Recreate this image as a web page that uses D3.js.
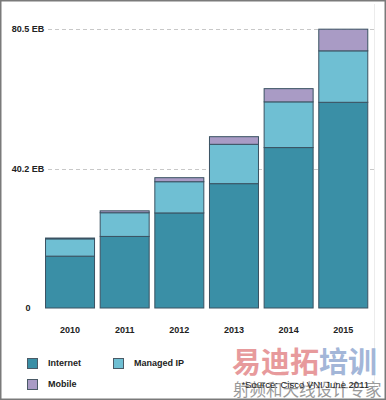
<!DOCTYPE html>
<html><head><meta charset="utf-8">
<script src="https://cdn.jsdelivr.net/npm/d3@7"></script>
<style>body{margin:0;background:#fff}svg{display:block}</style>
</head><body>
<script>
const years = ["2010","2011","2012","2013","2014","2015"];
const internet = [14.96, 20.65, 27.43, 35.88, 46.29, 59.35];
const managedIP = [4.99, 6.84, 9.01, 11.35, 13.19, 14.85];
const mobile = [0.24, 0.55, 1.16, 2.20, 3.81, 6.25];
const seriesNames = ["Internet", "Managed IP", "Mobile"];
const tickValues = [0, 40.2, 80.5];
const tickLabels = ["0", "40.2 EB", "80.5 EB"];
const colors = ["#3a8fa6", "#6fbfd3", "#a99bc5"];

const W = 386, H = 400;
const svg = d3.select("body").append("svg").attr("width", W).attr("height", H);
svg.append("rect").attr("x",0.75).attr("y",0.75).attr("width",W-1.5).attr("height",H-1.5)
  .attr("fill","#fff").attr("stroke","#7a7a7a").attr("stroke-width",1.5);
svg.append("line").attr("x1",374.5).attr("x2",374.5).attr("y1",4).attr("y2",392).attr("stroke","#ececec");

const x = d3.scaleBand().domain(years).range([42.7, 370.6]).paddingInner(0.085).paddingOuter(0.0425);
const y = d3.scaleLinear().domain([0, 80.5]).range([308, 29]);

const font = "Arial, 'Liberation Sans', sans-serif";

// grid
svg.selectAll(".grid").data(tickValues.filter(v => v > 0)).enter().append("line")
  .attr("x1", 48).attr("x2", 374).attr("y1", d => Math.round(y(d)) + 0.5).attr("y2", d => Math.round(y(d)) + 0.5)
  .attr("stroke", "#c8c8c8").attr("stroke-dasharray", "4,3");

// tick labels
svg.selectAll(".tl").data(tickValues).enter().append("text")
  .attr("x", 28).attr("y", d => y(d)).attr("dy", "0.35em").attr("text-anchor","middle")
  .attr("font-family", font).attr("font-weight","bold").attr("font-size", 9).attr("fill","#222")
  .text((d,i) => tickLabels[i]);

// stacked data
const rows = years.map((yr,i) => ({year: yr, "Internet": internet[i], "Managed IP": managedIP[i], "Mobile": mobile[i]}));
const stack = d3.stack().keys(seriesNames)(rows);
svg.selectAll(".layer").data(stack).enter().append("g").attr("fill", (d,i) => colors[i])
  .selectAll("rect").data(d => d).enter().append("rect")
  .attr("x", d => x(d.data.year) + 0.5).attr("width", x.bandwidth() - 1)
  .attr("y", d => y(d[1])).attr("height", d => y(d[0]) - y(d[1]))
  .attr("stroke", "#3a5262").attr("stroke-width", 1);

// year labels
svg.selectAll(".yl").data(years).enter().append("text")
  .attr("x", d => x(d) + x.bandwidth()/2).attr("y", 333).attr("text-anchor","middle")
  .attr("font-family", font).attr("font-weight","bold").attr("font-size", 9).attr("fill","#222")
  .text(d => d);

// legend
const leg = [{n: seriesNames[0], c: colors[0], x: 27, y: 358},
             {n: seriesNames[1], c: colors[1], x: 113, y: 358},
             {n: seriesNames[2], c: colors[2], x: 27, y: 379}];
const lg = svg.selectAll(".lg").data(leg).enter().append("g");
lg.append("rect").attr("x", d => d.x + 0.5).attr("y", d => d.y + 0.5).attr("width", 10).attr("height", 10)
  .attr("fill", d => d.c).attr("stroke", "#4a5a66");
lg.append("text").attr("x", d => d.x + 21).attr("y", d => d.y + 5).attr("dy","0.35em")
  .attr("font-family", font).attr("font-weight","bold").attr("font-size", 9).attr("fill","#222")
  .text(d => d.n);

// watermark
const wm = svg.append("text").attr("x", 232).attr("y", 373)
  .attr("font-family", "'Noto Sans CJK SC'").attr("font-weight","bold").attr("font-size", 29);
wm.append("tspan").attr("fill","#e79a9c").text("易迪拓");
wm.append("tspan").attr("fill","#a3b6d8").text("培训");
svg.append("text").attr("x", 233).attr("y", 396)
  .attr("font-family", "'Noto Sans CJK SC'").attr("font-size", 16.5).attr("fill","#9a9a9a")
  .text("射频和天线设计专家");

// source
svg.append("text").attr("x", 369).attr("y", 388).attr("text-anchor","end")
  .attr("font-family", font).attr("font-size", 9.5).attr("fill","#222")
  .text("*Source: Cisco VNI June 2011");
</script>
</body></html>
